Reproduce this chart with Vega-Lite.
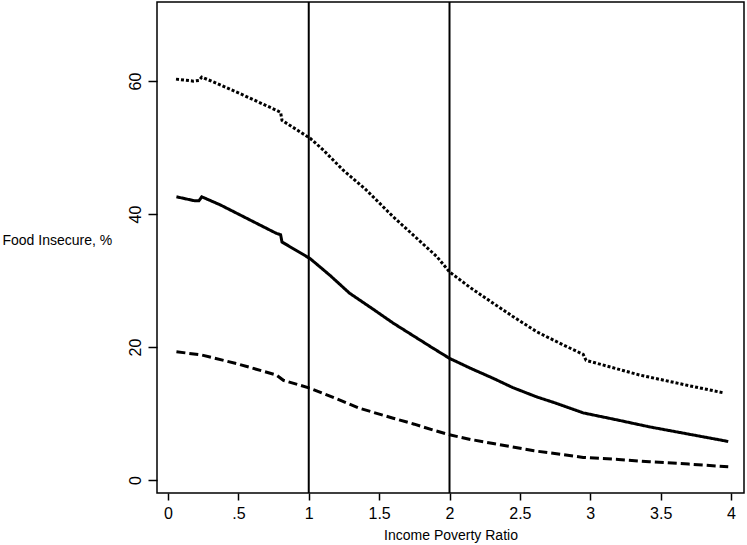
{
  "$schema": "https://vega.github.io/schema/vega-lite/v6.json",
  "autosize": "none",
  "width": 587,
  "height": 491,
  "padding": {"left": 157, "top": 2, "right": 3, "bottom": 52},
  "background": "white",
  "config": {
    "view": {"stroke": "black", "strokeWidth": 1.5},
    "font": "Liberation Sans"
  },
  "datasets": {
    "curves": [
      {"series": "upper", "ratio": 0.057, "pct": 60.3},
      {"series": "upper", "ratio": 0.18, "pct": 60.0},
      {"series": "upper", "ratio": 0.22, "pct": 60.1},
      {"series": "upper", "ratio": 0.24, "pct": 60.6},
      {"series": "upper", "ratio": 0.32, "pct": 59.9},
      {"series": "upper", "ratio": 0.535, "pct": 57.9},
      {"series": "upper", "ratio": 0.772, "pct": 55.6},
      {"series": "upper", "ratio": 0.80, "pct": 55.3},
      {"series": "upper", "ratio": 0.81, "pct": 54.1},
      {"series": "upper", "ratio": 1.01, "pct": 51.4},
      {"series": "upper", "ratio": 1.1, "pct": 49.7},
      {"series": "upper", "ratio": 1.245, "pct": 46.6},
      {"series": "upper", "ratio": 1.4, "pct": 43.8},
      {"series": "upper", "ratio": 1.6, "pct": 39.6},
      {"series": "upper", "ratio": 1.75, "pct": 36.7},
      {"series": "upper", "ratio": 1.91, "pct": 33.6},
      {"series": "upper", "ratio": 2.0, "pct": 31.3},
      {"series": "upper", "ratio": 2.15, "pct": 28.9},
      {"series": "upper", "ratio": 2.31, "pct": 26.6},
      {"series": "upper", "ratio": 2.45, "pct": 24.6},
      {"series": "upper", "ratio": 2.62, "pct": 22.3},
      {"series": "upper", "ratio": 2.8, "pct": 20.4},
      {"series": "upper", "ratio": 2.95, "pct": 18.9},
      {"series": "upper", "ratio": 2.97, "pct": 18.0},
      {"series": "upper", "ratio": 3.35, "pct": 15.8},
      {"series": "upper", "ratio": 3.7, "pct": 14.2},
      {"series": "upper", "ratio": 3.95, "pct": 13.1},
      {"series": "mid", "ratio": 0.06, "pct": 42.6},
      {"series": "mid", "ratio": 0.19, "pct": 42.0},
      {"series": "mid", "ratio": 0.22, "pct": 42.0},
      {"series": "mid", "ratio": 0.24, "pct": 42.6},
      {"series": "mid", "ratio": 0.37, "pct": 41.4},
      {"series": "mid", "ratio": 0.77, "pct": 37.1},
      {"series": "mid", "ratio": 0.80, "pct": 36.9},
      {"series": "mid", "ratio": 0.81, "pct": 35.8},
      {"series": "mid", "ratio": 1.01, "pct": 33.3},
      {"series": "mid", "ratio": 1.15, "pct": 30.8},
      {"series": "mid", "ratio": 1.29, "pct": 28.1},
      {"series": "mid", "ratio": 1.45, "pct": 25.8},
      {"series": "mid", "ratio": 1.6, "pct": 23.6},
      {"series": "mid", "ratio": 1.75, "pct": 21.6},
      {"series": "mid", "ratio": 1.885, "pct": 19.8},
      {"series": "mid", "ratio": 2.0, "pct": 18.3},
      {"series": "mid", "ratio": 2.15, "pct": 16.8},
      {"series": "mid", "ratio": 2.31, "pct": 15.3},
      {"series": "mid", "ratio": 2.45, "pct": 13.9},
      {"series": "mid", "ratio": 2.62, "pct": 12.5},
      {"series": "mid", "ratio": 2.75, "pct": 11.6},
      {"series": "mid", "ratio": 2.83, "pct": 11.0},
      {"series": "mid", "ratio": 2.95, "pct": 10.1},
      {"series": "mid", "ratio": 3.2, "pct": 9.0},
      {"series": "mid", "ratio": 3.42, "pct": 8.0},
      {"series": "mid", "ratio": 3.7, "pct": 6.9},
      {"series": "mid", "ratio": 3.98, "pct": 5.8},
      {"series": "lower", "ratio": 0.06, "pct": 19.3},
      {"series": "lower", "ratio": 0.24, "pct": 18.8},
      {"series": "lower", "ratio": 0.49, "pct": 17.5},
      {"series": "lower", "ratio": 0.77, "pct": 15.8},
      {"series": "lower", "ratio": 0.82, "pct": 15.0},
      {"series": "lower", "ratio": 1.01, "pct": 13.8},
      {"series": "lower", "ratio": 1.2, "pct": 12.2},
      {"series": "lower", "ratio": 1.36, "pct": 10.8},
      {"series": "lower", "ratio": 1.6, "pct": 9.3},
      {"series": "lower", "ratio": 1.75, "pct": 8.4},
      {"series": "lower", "ratio": 1.885, "pct": 7.5},
      {"series": "lower", "ratio": 2.0, "pct": 6.8},
      {"series": "lower", "ratio": 2.15, "pct": 6.1},
      {"series": "lower", "ratio": 2.31, "pct": 5.5},
      {"series": "lower", "ratio": 2.6, "pct": 4.4},
      {"series": "lower", "ratio": 2.95, "pct": 3.4},
      {"series": "lower", "ratio": 3.2, "pct": 3.1},
      {"series": "lower", "ratio": 3.42, "pct": 2.75},
      {"series": "lower", "ratio": 3.7, "pct": 2.4},
      {"series": "lower", "ratio": 3.98, "pct": 2.0}
    ],
    "refs": [{"ratio": 1}, {"ratio": 2}]
  },
  "layer": [
    {
      "data": {"name": "refs"},
      "mark": {"type": "rule", "color": "black", "strokeWidth": 2},
      "encoding": {
        "x": {"field": "ratio", "type": "quantitative", "scale": {"domain": [-0.078, 4.092], "nice": false, "zero": false}}
      }
    },
    {
      "data": {"name": "curves"},
      "mark": {"type": "line", "color": "black", "strokeWidth": 3, "strokeCap": "butt"},
      "encoding": {
        "x": {
          "field": "ratio", "type": "quantitative",
          "scale": {"domain": [-0.078, 4.092], "nice": false, "zero": false},
          "axis": {
            "values": [0, 0.5, 1, 1.5, 2, 2.5, 3, 3.5, 4],
            "format": "~g",
            "labelExpr": "datum.value == 0.5 ? '.5' : datum.label",
            "title": "Income Poverty Ratio",
            "grid": false, "domain": false,
            "tickColor": "black", "tickSize": 7, "tickWidth": 1.5,
            "labelColor": "black", "labelFontSize": 16, "labelPadding": 5,
            "titleColor": "black", "titleFontSize": 14, "titleFontWeight": "normal",
            "titlePadding": 7
          }
        },
        "y": {
          "field": "pct", "type": "quantitative",
          "scale": {"domain": [-1.95, 71.9], "nice": false, "zero": false},
          "axis": {
            "values": [0, 20, 40, 60],
            "title": "Food Insecure, %",
            "grid": false, "domain": false,
            "tickColor": "black", "tickSize": 9, "tickWidth": 1.5,
            "labelColor": "black", "labelFontSize": 16, "labelAngle": -90,
            "labelAlign": "center", "labelBaseline": "bottom", "labelPadding": 5,
            "titleColor": "black", "titleFontSize": 14, "titleFontWeight": "normal",
            "titleAngle": 0, "titleAlign": "left", "titleBaseline": "middle",
            "titleX": -155, "titleY": 238
          }
        },
        "detail": {"field": "series"},
        "strokeDash": {
          "field": "series", "type": "nominal",
          "scale": {"domain": ["upper", "mid", "lower"], "range": [[3, 2], [1, 0], [9, 4]]},
          "legend": null
        }
      }
    }
  ]
}
